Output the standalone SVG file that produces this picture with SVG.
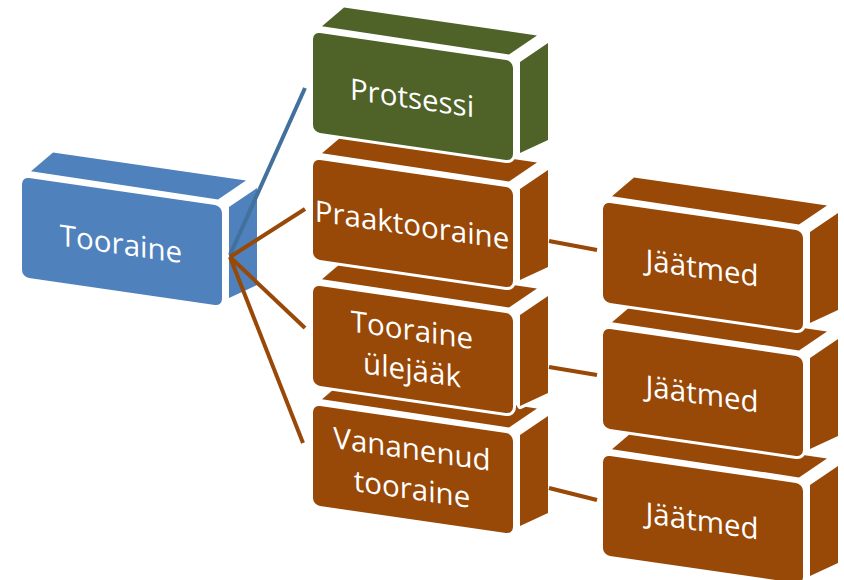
<svg xmlns="http://www.w3.org/2000/svg" xmlns:xlink="http://www.w3.org/1999/xlink" width="844" height="580" viewBox="0 0 844 580">
<style>
.face{stroke:#fff;stroke-width:6;paint-order:stroke;stroke-linejoin:round}
.blue{fill:#4F81BD}
.green{fill:#4F6228}
.brown{fill:#984807}
.lbl{font-family:"Open Sans","Noto Sans",sans-serif;font-size:29.5px;fill:#fff;text-anchor:middle}
.con{fill:none;stroke-width:4;stroke-linecap:butt}
</style>
<defs>
<g id="box">
<polygon class="face" points="9,-7 196,-6 224,-29 31,-29"/>
<polygon class="face" points="207,0 235,-23 235,74 207,91"/>
<rect class="face" x="0" y="0" width="200" height="100" rx="7" ry="7"/>
</g>
</defs>
<g id="tooraine" transform="translate(22,177) skewY(8.25)">
<use xlink:href="#box" class="blue"/>
<text class="lbl" x="99" y="63">Tooraine</text>
</g>
<g id="vananenud-tooraine" transform="translate(313,405) skewY(8.25)">
<use xlink:href="#box" class="brown"/>
<text class="lbl" x="99" y="40">Vananenud</text>
<text class="lbl" x="99" y="80">tooraine</text>
</g>
<g id="tooraine-ulejaak" transform="translate(313,285) skewY(8.25)">
<use xlink:href="#box" class="brown"/>
<text class="lbl" x="99" y="41">Tooraine</text>
<text class="lbl" x="99" y="81">ülejääk</text>
</g>
<g id="praaktooraine" transform="translate(313,159) skewY(8.25)">
<use xlink:href="#box" class="brown"/>
<text class="lbl" x="99" y="62">Praaktooraine</text>
</g>
<g id="protsessi" transform="translate(313,32) skewY(8.25)">
<use xlink:href="#box" class="green"/>
<text class="lbl" x="99" y="62">Protsessi</text>
</g>
<g id="jaatmed-3" transform="translate(603,455) skewY(8.25)">
<use xlink:href="#box" class="brown"/>
<text class="lbl" x="99" y="62">Jäätmed</text>
</g>
<g id="jaatmed-2" transform="translate(603,328) skewY(8.25)">
<use xlink:href="#box" class="brown"/>
<text class="lbl" x="99" y="62">Jäätmed</text>
</g>
<g id="jaatmed-1" transform="translate(603,202) skewY(8.25)">
<use xlink:href="#box" class="brown"/>
<text class="lbl" x="99" y="62">Jäätmed</text>
</g>
<g id="connectors">
<line class="con" stroke="#41719C" x1="230" y1="255" x2="305" y2="88"/>
<line class="con" stroke="#984807" x1="230" y1="257" x2="305" y2="209"/>
<line class="con" stroke="#984807" x1="230" y1="257" x2="305" y2="328"/>
<line class="con" stroke="#984807" x1="230" y1="257" x2="303" y2="443"/>
<line class="con" stroke="#984807" stroke-width="3.5" x1="549" y1="241" x2="597" y2="250"/>
<line class="con" stroke="#984807" stroke-width="3.5" x1="549" y1="367" x2="597" y2="375"/>
<line class="con" stroke="#984807" stroke-width="3.5" x1="549" y1="488" x2="597" y2="500"/>
</g>
</svg>
